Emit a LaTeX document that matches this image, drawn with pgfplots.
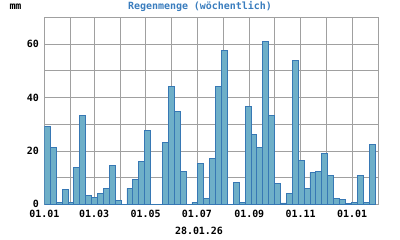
\documentclass[border=0pt]{standalone}
\usepackage{pgfplots}
\pgfplotsset{compat=1.18}
\usepackage{fontspec}
\newfontfamily\pix{DejaVu Sans Mono}
\definecolor{titleblue}{RGB}{58,125,190}
\definecolor{barfill}{RGB}{110,175,200}
\definecolor{baredge}{RGB}{55,120,180}
\definecolor{gridgray}{RGB}{160,160,160}
\begin{document}
\begin{tikzpicture}[x=1bp,y=1bp]
\path[use as bounding box] (0,0) rectangle (400,240);
\begin{axis}[
  at={(44.3bp,35.7bp)}, anchor=south west,
  scale only axis, width=334bp, height=186.7bp,
  xmin=0, xmax=396, ymin=0, ymax=70,
  xtick={0,31,59,90,120,151,181,212,243,273,304,334,365,396},
  xticklabels={01.01,,01.03,,01.05,,01.07,,01.09,,01.11,,01.01,},
  ytick={0,10,20,30,40,50,60,70},
  yticklabels={0,,20,,40,,60,},
  major tick length=0pt,
  grid=major,
  major grid style={gridgray, line width=0.9bp},
  axis line style={gridgray, line width=0.9bp},
  tick label style={font=\pix\bfseries\fontsize{10}{12}\selectfont, text=black},
  xticklabel style={yshift=-2.4bp},
  yticklabel style={xshift=-2bp},
  axis on top=false,
]
\addplot[ybar interval, fill=barfill, draw=baredge, line width=0.8bp] coordinates {
(0,29.2) (7,21.4) (14,0.75) (21,5.6) (28,0.75) (35,13.9) (42,33.4) (49,3.4)
(56,2.6) (63,4.1) (70,6.0) (77,14.6) (84,1.5) (91,0) (98,6.0) (105,9.4)
(112,16.1) (119,27.7) (126,0) (133,0) (140,23.2) (147,44.2) (154,34.9) (161,12.4)
(168,0) (175,0.75) (182,15.4) (189,2.25) (196,17.2) (203,44.2) (210,57.7) (217,0)
(224,8.25) (231,0.75) (238,36.7) (245,26.2) (252,21.4) (259,61.1) (266,33.4) (273,7.9)
(280,0.5) (287,4.1) (294,54.0) (301,16.5) (308,6.0) (315,12.0) (322,12.4) (329,19.1)
(336,10.9) (343,2.25) (350,1.9) (357,0.4) (364,0.75) (371,10.9) (378,0.75) (385,22.5)
(392,0)
};
\end{axis}
\node[font=\pix\bfseries\fontsize{10}{12}\selectfont, text=titleblue] at (200,233.7) {Regenmenge (wöchentlich)};
\node[font=\pix\bfseries\fontsize{10}{12}\selectfont] at (15.5,233.5) {mm};
\node[font=\pix\bfseries\fontsize{10}{12}\selectfont] at (199,9) {28.01.26};
\end{tikzpicture}
\end{document}
